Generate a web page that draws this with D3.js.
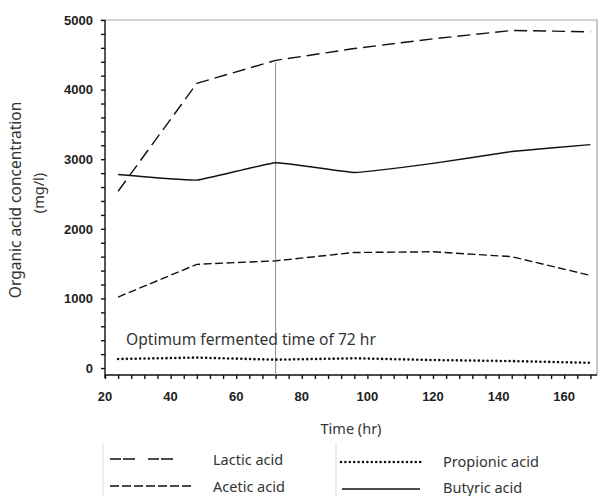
<!DOCTYPE html>
<html>
<head>
<meta charset="utf-8">
<script src="https://cdn.jsdelivr.net/npm/d3@7"></script>
<style>
  body { margin: 0; background: #fff; }
  svg { display: block; }
</style>
</head>
<body>
<div id="chart"></div>
<script>
// organic acids over fermentation time
var times = [24, 48, 72, 96, 120, 144, 168];
var lactic = [2540, 4090, 4420, 4590, 4730, 4850, 4830];
var acetic = [1020, 1490, 1540, 1660, 1670, 1600, 1330];
var propionic = [130, 150, 120, 140, 115, 100, 75];
var butyric = [2780, 2700, 2950, 2810, 2940, 3110, 3210];
var xTicks = [20, 40, 60, 80, 100, 120, 140, 160];
var yTicks = [0, 1000, 2000, 3000, 4000, 5000];
var optimumTime = 72;

var width = 598, height = 496;
// note: "top" is taken by window.top, so use plot* names
var plotLeft = 105, plotRight = 597, plotTop = 20, plotBottom = 375;
var textFont = "'Noto Sans', sans-serif";

var svg = d3.select("#chart").append("svg")
    .attr("width", width)
    .attr("height", height);

var x = d3.scaleLinear().domain([20, 170]).range([plotLeft, plotRight]);
var y = d3.scaleLinear().domain([-100, 5000]).range([plotBottom, plotTop]);

// frame top / right
svg.append("path")
    .attr("d", "M" + (plotLeft - 5) + "," + plotTop + "H" + plotRight + "V" + plotBottom)
    .attr("fill", "none")
    .attr("stroke", "#a8a8a8")
    .attr("stroke-width", 1.2);

// minor ticks
var yMinor = d3.range(0, 5001, 200);
var xMinor = d3.range(20, 169, 4);

var yAxis = svg.append("g")
    .attr("transform", "translate(" + plotLeft + ",0)")
    .call(d3.axisLeft(y).tickValues(yMinor).tickSize(4).tickFormat(""));
yAxis.select(".domain").attr("d", "M0," + plotTop + "V" + (plotBottom + 3));
yAxis.selectAll("path, line").attr("stroke", "#111").attr("stroke-width", 1.4);

var xAxis = svg.append("g")
    .attr("transform", "translate(0," + plotBottom + ")")
    .call(d3.axisBottom(x).tickValues(xMinor).tickSize(4).tickFormat(""));
xAxis.select(".domain").attr("d", "M" + plotLeft + ",0H" + plotRight);
xAxis.selectAll("path, line").attr("stroke", "#111").attr("stroke-width", 1.4);

// tick labels
svg.append("g").selectAll("text")
    .data(yTicks)
    .enter().append("text")
        .attr("x", 93)
        .attr("y", function(d) { return y(d); })
        .attr("dy", "0.36em")
        .attr("text-anchor", "end")
        .attr("font-family", "'Liberation Sans', Arial, sans-serif")
        .attr("font-weight", "bold")
        .attr("font-size", 13)
        .attr("fill", "#222")
        .text(function(d) { return d; });

svg.append("g").selectAll("text")
    .data(xTicks)
    .enter().append("text")
        .attr("x", function(d) { return x(d); })
        .attr("y", 401)
        .attr("text-anchor", "middle")
        .attr("font-family", "'Liberation Sans', Arial, sans-serif")
        .attr("font-weight", "bold")
        .attr("font-size", 13)
        .attr("fill", "#222")
        .text(function(d) { return d; });

// axis titles
svg.append("text")
    .attr("transform", "translate(21,200) rotate(-90)")
    .attr("text-anchor", "middle")
    .attr("font-family", textFont)
    .attr("font-size", 15.5)
    .attr("fill", "#333")
    .text("Organic acid concentration");

svg.append("text")
    .attr("transform", "translate(44,193) rotate(-90)")
    .attr("text-anchor", "middle")
    .attr("font-family", textFont)
    .attr("font-size", 14.5)
    .attr("fill", "#333")
    .text("(mg/l)");

svg.append("text")
    .attr("x", (plotLeft + plotRight) / 2)
    .attr("y", 434)
    .attr("text-anchor", "middle")
    .attr("font-family", textFont)
    .attr("font-size", 14.5)
    .attr("fill", "#333")
    .text("Time (hr)");

// optimum marker
svg.append("line")
    .attr("x1", x(optimumTime))
    .attr("x2", x(optimumTime))
    .attr("y1", y(lactic[times.indexOf(optimumTime)]) + 2)
    .attr("y2", plotBottom)
    .attr("stroke", "#999")
    .attr("stroke-width", 1.1);

svg.append("text")
    .attr("x", 126)
    .attr("y", 345)
    .attr("font-family", textFont)
    .attr("font-size", 15.6)
    .attr("fill", "#333")
    .text("Optimum fermented time of 72 hr");

// series
var series = [
    {name: "Lactic acid", values: lactic, dash: "13,6", width: 1.4, cap: "butt", curve: d3.curveLinear},
    {name: "Acetic acid", values: acetic, dash: "8,3.5", width: 1.4, cap: "butt", curve: d3.curveLinear},
    {name: "Propionic acid", values: propionic, dash: "0,4.4", width: 2.6, cap: "round", curve: d3.curveLinear},
    {name: "Butyric acid", values: butyric, dash: null, width: 1.4, cap: "butt", curve: d3.curveCardinal.tension(0.7)}
];

series.forEach(function(s) {
    var line = d3.line()
        .x(function(d, i) { return x(times[i]); })
        .y(function(d) { return y(d); })
        .curve(s.curve);
    svg.append("path")
        .datum(s.values)
        .attr("d", line)
        .attr("fill", "none")
        .attr("stroke", "#111")
        .attr("stroke-width", s.width)
        .attr("stroke-linecap", s.cap)
        .attr("stroke-dasharray", s.dash);
});

// legend
svg.append("g").selectAll("line")
    .data([103, 336])
    .enter().append("line")
        .attr("x1", function(d) { return d; })
        .attr("x2", function(d) { return d; })
        .attr("y1", 443)
        .attr("y2", height)
        .attr("stroke", "#ddd");

var legendPos = [
    {lx: 110, lw: 74, ly: 459, tx: 213, ty: 460, dash: "11,2,12,13"},
    {lx: 110, lw: 83, ly: 486, tx: 213, ty: 487, dash: "9,3"},
    {lx: 341, lw: 80, ly: 462, tx: 443, ty: 462, dash: "0,4.4"},
    {lx: 342, lw: 78, ly: 489, tx: 443, ty: 488, dash: null}
];

var legend = svg.append("g").selectAll("g")
    .data(series)
    .enter().append("g");

legend.append("line")
    .attr("x1", function(d, i) { return legendPos[i].lx; })
    .attr("x2", function(d, i) { return legendPos[i].lx + legendPos[i].lw; })
    .attr("y1", function(d, i) { return legendPos[i].ly; })
    .attr("y2", function(d, i) { return legendPos[i].ly; })
    .attr("stroke", "#111")
    .attr("stroke-width", function(d) { return d.width; })
    .attr("stroke-linecap", function(d) { return d.cap; })
    .attr("stroke-dasharray", function(d, i) { return legendPos[i].dash; });

legend.append("text")
    .attr("x", function(d, i) { return legendPos[i].tx; })
    .attr("y", function(d, i) { return legendPos[i].ty; })
    .attr("dy", "0.35em")
    .attr("font-family", textFont)
    .attr("font-size", 14.5)
    .attr("fill", "#333")
    .text(function(d) { return d.name; });
</script>
</body>
</html>
